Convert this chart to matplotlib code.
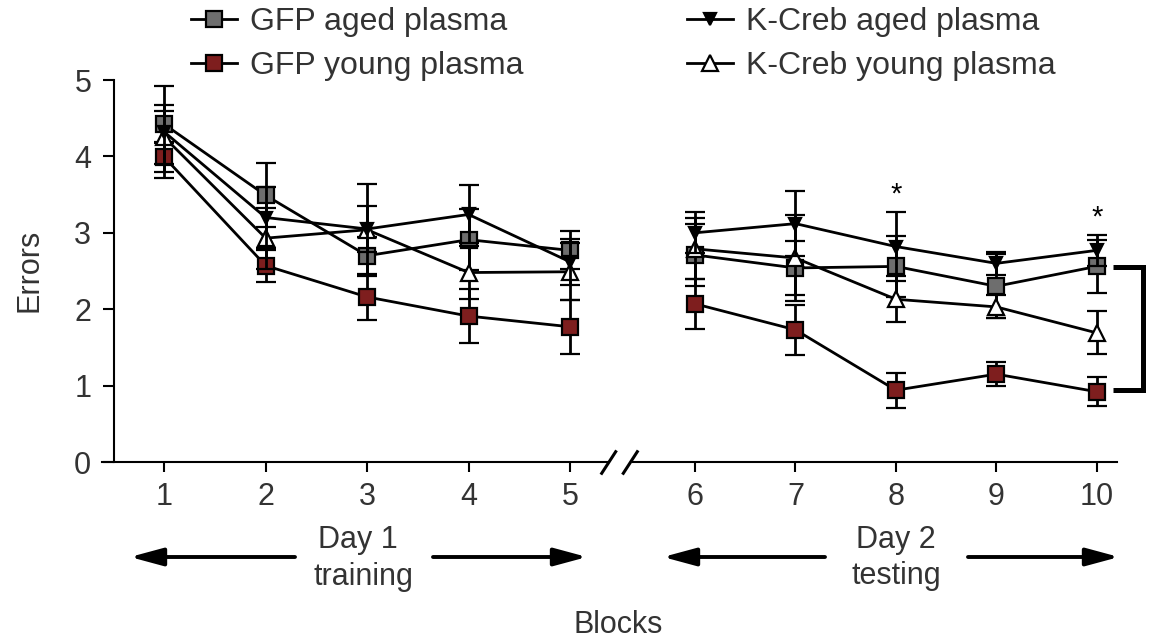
import matplotlib
matplotlib.use('Agg')
import matplotlib.pyplot as plt
from matplotlib.lines import Line2D
from matplotlib.patches import FancyArrowPatch

plt.rcParams['font.family'] = ['Liberation Sans', 'DejaVu Sans']

# ---------------- data ----------------
blocks = [1, 2, 3, 4, 5, 6, 7, 8, 9, 10]
gfp_aged = [4.42, 3.49, 2.70, 2.91, 2.77, 2.71, 2.54, 2.56, 2.30, 2.56]
gfp_aged_sem = [0.25, 0.42, 0.25, 0.40, 0.25, 0.40, 0.35, 0.40, 0.42, 0.35]
gfp_young = [3.99, 2.57, 2.16, 1.91, 1.77, 2.07, 1.73, 0.94, 1.15, 0.92]
gfp_young_sem = [0.20, 0.21, 0.30, 0.35, 0.35, 0.33, 0.33, 0.23, 0.16, 0.19]
kcreb_aged = [4.32, 3.20, 3.05, 3.24, 2.62, 3.00, 3.12, 2.82, 2.60, 2.77]
kcreb_aged_sem = [0.60, 0.40, 0.30, 0.38, 0.30, 0.27, 0.43, 0.45, 0.15, 0.20]
kcreb_young = [4.25, 2.93, 3.04, 2.48, 2.49, 2.79, 2.67, 2.13, 2.03, 1.69]
kcreb_young_sem = [0.35, 0.40, 0.60, 0.35, 0.37, 0.40, 0.56, 0.30, 0.15, 0.28]
star_blocks = [8, 10]
star_heights = [3.40, 3.09]
bracket_top = 2.55
bracket_bottom = 0.94
yticks = [0, 1, 2, 3, 4, 5]
legend_labels = ['GFP aged plasma', 'GFP young plasma',
                 'K-Creb aged plasma', 'K-Creb young plasma']

TXT = '#333333'
FS = 22
LW = 2.0

W, H = 1153, 639
fig = plt.figure(figsize=(W / 100, H / 100), dpi=100)

def fx(px):
    return px / W

def fy(py):
    return 1 - py / H

axL = fig.add_axes([fx(102), fy(462), fx(607) - fx(102), fy(80) - fy(462)])
axR = fig.add_axes([fx(633), fy(462), fx(1117) - fx(633), fy(80) - fy(462)])
axL.set_xlim(0.386, 5.365)
axR.set_xlim(5.382, 10.202)
for ax in (axL, axR):
    ax.set_ylim(0, 5)
    ax.patch.set_visible(False)
    for s in ('top', 'right'):
        ax.spines[s].set_visible(False)
    ax.spines['bottom'].set_linewidth(1.5)
    ax.tick_params(axis='x', direction='out', length=7.5, width=1.5,
                   pad=7, labelsize=FS, labelcolor=TXT)
axL.spines['left'].set_position(('data', 0.5))
axL.spines['left'].set_linewidth(1.5)
axL.set_yticks(yticks)
axL.tick_params(axis='y', direction='out', length=8, width=1.5, pad=8,
                labelsize=FS, labelcolor=TXT)
axR.spines['left'].set_visible(False)
axR.tick_params(axis='y', left=False, labelleft=False)
axL.set_xticks(blocks[:5])
axR.set_xticks(blocks[5:])

styles = [
    dict(marker='s', ms=11.5, mfc='#6e6e6e'),
    dict(marker='s', ms=11.5, mfc='#7e1e1e'),
    dict(marker='v', ms=9, mfc='black'),
    dict(marker='^', ms=11, mfc='white'),
]

series = [
    (gfp_aged, gfp_aged_sem, styles[0], 3),
    (gfp_young, gfp_young_sem, styles[1], 3),
    (kcreb_young, kcreb_young_sem, styles[3], 4),
    (kcreb_aged, kcreb_aged_sem, styles[2], 5),
]

for ax, sl in ((axL, slice(0, 5)), (axR, slice(5, 10))):
    for vals, sem, style, z in series:
        cont = ax.errorbar(blocks[sl], vals[sl], yerr=sem[sl], color='black',
                           lw=LW, elinewidth=LW, capsize=7.5, capthick=LW,
                           mec='black', mew=1.6, zorder=z, **style)
        for art in cont.get_children():
            art.set_clip_on(False)

# significance stars
for b, h in zip(star_blocks, star_heights):
    axR.text(b, h, '*', ha='center', va='baseline', fontsize=21, color='black')

# bracket
bx = [10.16, 10.46, 10.46, 10.16]
by = [bracket_top, bracket_top, bracket_bottom, bracket_bottom]
axR.plot(bx, by, color='black', lw=3.6, solid_joinstyle='miter',
         solid_capstyle='butt', clip_on=False)

# axis break marks
for x0 in (601.7, 623.3):
    fig.add_artist(Line2D([fx(x0), fx(x0 + 14)], [fy(473.3), fy(451.7)],
                          color='black', lw=2.2))

# y label
fig.text(fx(30), fy(270), 'Errors', rotation=90, ha='center', va='center',
         fontsize=FS, color=TXT)
# x label
fig.text(fx(618), fy(633), 'Blocks', ha='center', va='baseline',
         fontsize=FS, color=TXT)
# day labels
fig.text(fx(358), fy(548), 'Day 1', ha='center', va='baseline', fontsize=FS, color=TXT)
fig.text(fx(363), fy(585), 'training', ha='center', va='baseline', fontsize=FS, color=TXT)
fig.text(fx(896), fy(548), 'Day 2', ha='center', va='baseline', fontsize=FS, color=TXT)
fig.text(fx(896), fy(584), 'testing', ha='center', va='baseline', fontsize=FS, color=TXT)

arrow_kw = dict(arrowstyle='-|>,head_length=1.0,head_width=0.27', lw=2.8,
                color='black', mutation_scale=20, shrinkA=0, shrinkB=0)
for (x0, x1) in ((295, 130), (433, 587), (825, 663), (968, 1119)):
    fig.add_artist(FancyArrowPatch(
        (fx(x0), fy(557)), (fx(x1), fy(557)), transform=fig.transFigure,
        **arrow_kw))

# legend
handles = [Line2D([], [], color='black', lw=LW, mec='black', mew=1.6, **st)
           for st in styles]
leg = fig.legend(handles, legend_labels, loc='upper left',
                 bbox_to_anchor=(fx(191), fy(7)), ncol=2, frameon=False,
                 fontsize=23, handlelength=1.45, handletextpad=0.4,
                 columnspacing=5.1, labelspacing=0.45, borderpad=0,
                 borderaxespad=0)
for t in leg.get_texts():
    t.set_color(TXT)

fig.savefig('out.png', dpi=100)
